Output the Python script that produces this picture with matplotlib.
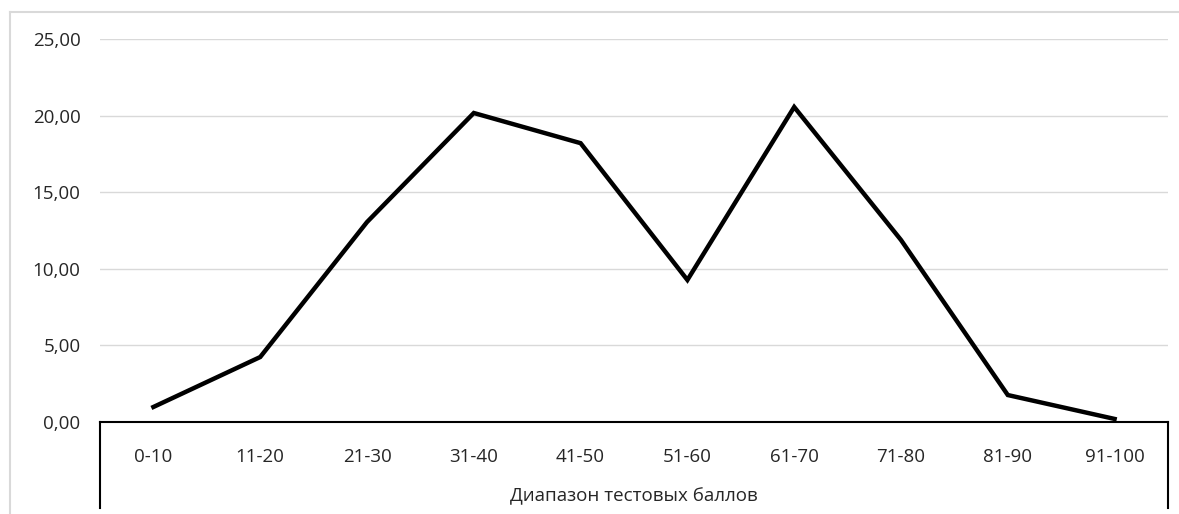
import matplotlib.pyplot as plt
from matplotlib.lines import Line2D

categories = ["0-10", "11-20", "21-30", "31-40", "41-50",
              "51-60", "61-70", "71-80", "81-90", "91-100"]
values = [0.98, 4.24, 13.05, 20.17, 18.2, 9.27, 20.56, 11.88, 1.76, 0.2]
y_ticks = [0, 5, 10, 15, 20, 25]
x_title = "Диапазон тестовых баллов"

plt.rcParams["font.family"] = ["Open Sans", "DejaVu Sans"]

W, H = 1179, 514
fig = plt.figure(figsize=(W / 100, H / 100), dpi=100)
left, right, top, bottom = 100, 1168, 39, 422
ax = fig.add_axes([left / W, 1 - bottom / H, (right - left) / W, (bottom - top) / H])

x = list(range(len(categories)))
ax.plot(x, values, color="black", lw=3.2, solid_joinstyle="miter", clip_on=False, zorder=3)

fs = 13.5
ax.set_xlim(-0.5, len(categories) - 0.5)
ax.set_ylim(0, 25)
ax.set_yticks(y_ticks)
ax.set_yticklabels([f"{v:.2f}".replace(".", ",") for v in y_ticks], fontsize=fs, color="#262626")
ax.set_xticks(x)
ax.set_xticklabels(categories, fontsize=fs, color="#262626")
ax.tick_params(axis="y", length=0, pad=14)
ax.tick_params(axis="x", length=0, pad=19)
ax.grid(axis="y", color="#d9d9d9", lw=1)
ax.set_axisbelow(True)
for s in ["left", "right", "top"]:
    ax.spines[s].set_visible(False)
ax.spines["bottom"].set_color("black")
ax.spines["bottom"].set_linewidth(1.5)

# table-like box under the category axis
depth = (508 - bottom) / (bottom - top)
for xa in (0, 1):
    ax.plot([xa, xa], [0, -depth], transform=ax.transAxes, color="black", lw=1.5, clip_on=False)

fig.text((left + right) / 2 / W, 1 - 496 / H, x_title, ha="center", va="center",
         fontsize=fs, color="#262626")

# outer chart frame (left and top edges visible)
fig.add_artist(Line2D([10 / W, 10 / W], [0, 1 - 12 / H], transform=fig.transFigure, color="#d9d9d9", lw=1.5))
fig.add_artist(Line2D([10 / W, 1], [1 - 12 / H, 1 - 12 / H], transform=fig.transFigure, color="#d9d9d9", lw=1.5))

fig.savefig("out.png", dpi=100)
